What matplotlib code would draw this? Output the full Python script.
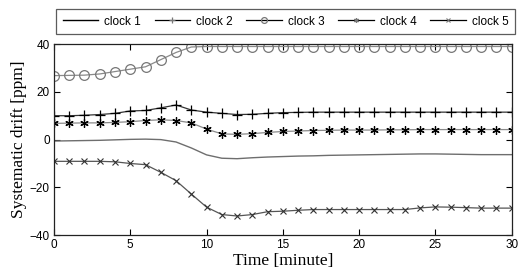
import numpy as np
import matplotlib
matplotlib.use("Agg")
import matplotlib.pyplot as plt

minutes = np.arange(0, 31)

clock1 = [-0.6, -0.5, -0.4, -0.3, -0.1, 0.1, 0.2, 0.0, -1.0, -3.5, -6.4, -7.8, -8.0, -7.6, -7.3,
          -7.1, -6.9, -6.8, -6.6, -6.5, -6.4, -6.3, -6.2, -6.1, -6.0, -6.0, -6.1, -6.2, -6.3, -6.3, -6.3]
clock2 = [10.0, 10.0, 10.2, 10.5, 11.0, 12.0, 12.2, 13.3, 14.5, 12.4, 11.5, 11.0, 10.5, 10.6, 11.0,
          11.3, 11.4, 11.5, 11.5, 11.5, 11.5, 11.5, 11.5, 11.5, 11.5, 11.5, 11.5, 11.5, 11.5, 11.5, 11.5]
clock3 = [26.8, 26.9, 27.0, 27.5, 28.5, 29.5, 30.5, 33.5, 36.5, 38.8, 39.0, 39.0, 39.0, 39.0, 39.0,
          39.0, 39.0, 39.0, 39.0, 39.0, 39.0, 39.0, 39.0, 39.0, 39.0, 39.0, 39.0, 39.0, 39.0, 39.0, 39.0]
clock4 = [6.8, 6.9, 7.0, 7.0, 7.2, 7.5, 8.0, 8.3, 8.0, 7.0, 4.4, 2.4, 2.2, 2.5, 3.0,
          3.4, 3.6, 3.8, 3.9, 4.0, 4.0, 4.0, 4.1, 4.1, 4.2, 4.2, 4.2, 4.2, 4.2, 4.2, 4.2]
clock5 = [-9.1, -9.1, -9.1, -9.1, -9.3, -10.0, -10.5, -13.7, -17.2, -22.8, -28.3, -31.4, -32.0, -31.4, -30.2,
          -30.0, -29.6, -29.3, -29.3, -29.3, -29.3, -29.3, -29.3, -29.3, -28.6, -28.2, -28.3, -28.5, -28.7, -28.7, -28.7]

labels = ["clock 1", "clock 2", "clock 3", "clock 4", "clock 5"]
xticks = [0, 5, 10, 15, 20, 25, 30]
yticks = [-40, -20, 0, 20, 40]

sans = "Liberation Sans"
serif = "Liberation Serif"

fig = plt.figure(figsize=(5.19, 2.74), dpi=100)
ax = fig.add_axes([0.104, 0.142, 0.882, 0.697])

line_col = "#8a8a8a"
ax.plot(minutes, clock1, color="#6e6e6e", lw=1.0, label=labels[0])
ax.plot(minutes, clock2, color="#333333", lw=0.9, marker="+", ms=7, mec="black", mew=0.9, label=labels[1])
ax.plot(minutes, clock3, color=line_col, lw=0.9, marker="o", ms=7, mfc="none", mec="#777777", mew=0.9, label=labels[2])
ax.plot(minutes, clock4, color=line_col, lw=0.9, marker=(6, 2, 0), ms=6, mec="black", mew=0.9, label=labels[3])
ax.plot(minutes, clock5, color="#555555", lw=0.9, marker="x", ms=4.5, mec="#333333", mew=0.8, label=labels[4])

ax.set_xlim(0, 30)
ax.set_ylim(-40, 40)
ax.set_xticks(xticks)
ax.set_yticks(yticks)
ax.set_xticklabels([str(t) for t in xticks], family=sans, fontsize=8.5)
ax.set_yticklabels([str(t).replace("-", "\u2212") for t in yticks], family=sans, fontsize=8.5)
ax.tick_params(direction="in", top=True, right=True, length=4, width=0.8, pad=3)
for s in ax.spines.values():
    s.set_linewidth(0.9)
    s.set_color("#222222")

ax.set_xlabel("Time [minute]", family=serif, fontsize=12.5, labelpad=1)
ax.set_ylabel("Systematic drift [ppm]", family=serif, fontsize=12.5, labelpad=2)

handles, _ = ax.get_legend_handles_labels()
leg = fig.legend(handles, labels, loc="upper left", bbox_to_anchor=(0.108, 0.967, 0.884, 0.0),
                 mode="expand", ncol=5, fancybox=False, frameon=True, handlelength=3.0,
                 handletextpad=0.5, columnspacing=0.9, borderpad=0.55, borderaxespad=0,
                 markerscale=0.6, prop={"family": sans, "size": 8.5})
leg.get_frame().set_edgecolor("#333333")
leg.get_frame().set_linewidth(0.9)
for h in leg.legend_handles:
    h.set_color("black")
    h.set_markeredgecolor("#777777")

fig.savefig("out.png", dpi=100)
